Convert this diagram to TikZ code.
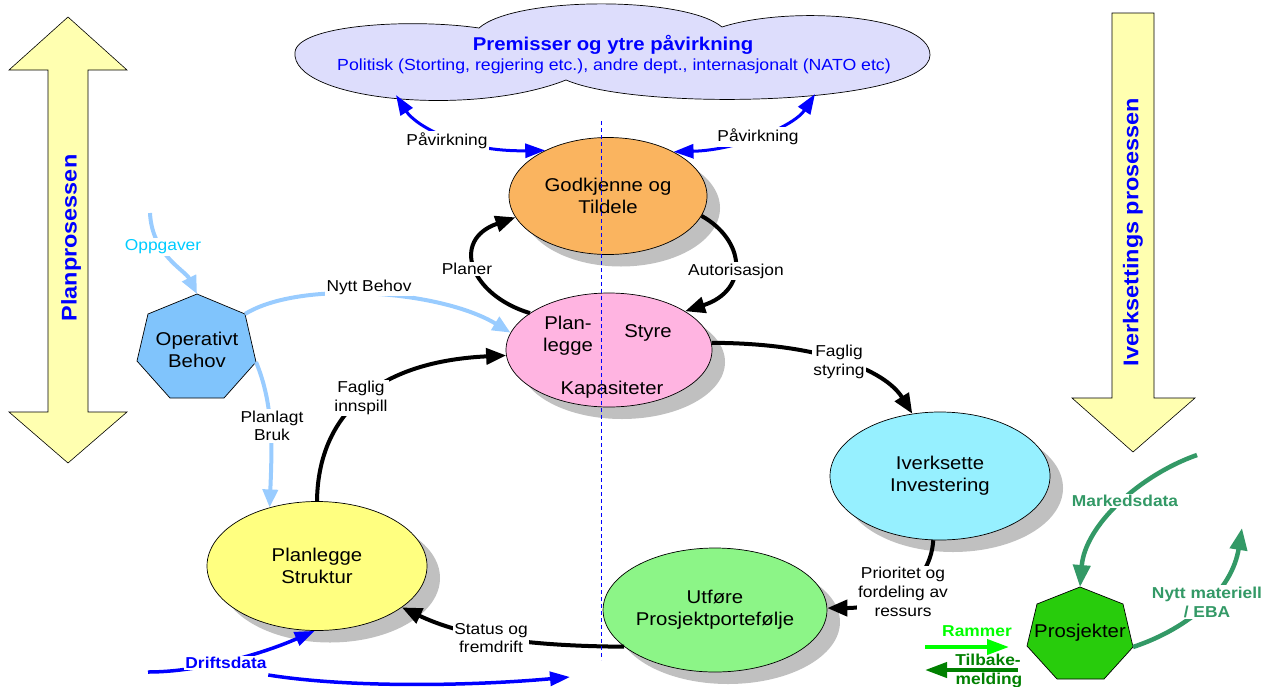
\documentclass[tikz,border=0pt]{standalone}
\usepackage{fontspec}
\setmainfont{Liberation Sans}[FakeStretch=1.1]
\usetikzlibrary{arrows.meta,shapes.geometric,shadows}

\definecolor{cloudfill}{RGB}{221,221,252}
\definecolor{bandyellow}{RGB}{255,255,176}
\definecolor{godorange}{RGB}{250,180,95}
\definecolor{styrepink}{RGB}{255,180,225}
\definecolor{ivcyan}{RGB}{150,240,255}
\definecolor{utgreen}{RGB}{140,245,135}
\definecolor{plyellow}{RGB}{255,255,128}
\definecolor{opblue}{RGB}{128,196,252}
\definecolor{projgreen}{RGB}{40,204,12}
\definecolor{shadowgray}{RGB}{192,192,192}
\definecolor{needblue}{RGB}{153,204,255}
\definecolor{taskcyan}{RGB}{0,204,255}
\definecolor{marketgreen}{RGB}{51,153,102}
\definecolor{frameGreen}{RGB}{0,255,0}
\definecolor{feedbackgreen}{RGB}{0,128,0}
\definecolor{divblue}{RGB}{0,0,255}

\begin{document}
\begin{tikzpicture}[x=1pt,y=-1pt,
  proc/.style={ellipse, draw=black, line width=0.7pt, inner sep=0pt, align=center,
    font=\fontsize{18.5}{22}\selectfont,
    drop shadow={shadow xshift=13pt, shadow yshift=-12pt, fill=shadowgray, opacity=1}},
  lbl/.style={fill=white, inner sep=1.5pt, align=center, font=\fontsize{15.8}{18.5}\selectfont},
  blbl/.style={lbl, font=\bfseries\fontsize{15.8}{19}\selectfont},
  ptext/.style={inner sep=0pt, align=center, font=\fontsize{18.5}{22}\selectfont},
  band/.style={draw=black, line width=0.6pt, fill=bandyellow, line join=miter},
  bandtext/.style={rotate=90, text=blue, font=\bfseries\fontsize{21.3}{24}\selectfont},
  flowblack/.style={draw=black, line width=4pt, -{Triangle[length=20pt,width=16pt]}},
  flowinfluence/.style={draw=blue, line width=3pt, {Triangle[length=20pt,width=14pt]}-{Triangle[length=20pt,width=14pt]}},
  flowneed/.style={draw=needblue, line width=4pt, -{Triangle[length=18pt,width=15pt]}},
  flowdata/.style={draw=blue, line width=3.5pt, -{Triangle[length=20pt,width=14pt]}},
  flowmarket/.style={draw=marketgreen, line width=4.5pt, -{Triangle[length=22pt,width=17pt]}},
]
\useasboundingbox (0,0) rectangle (1265,686);

% process bands at both sides
\draw[band] (68,17) -- (127,70) -- (88,70) -- (88,412) -- (127,412) -- (68,463)
  -- (9,412) -- (48,412) -- (48,70) -- (9,70) -- cycle;
\node[bandtext] (planband) at (71,238) {Planprosessen};
\draw[band] (1112,13) -- (1154,13) -- (1154,398) -- (1195,398) -- (1133,452)
  -- (1072,398) -- (1112,398) -- cycle;
\node[bandtext] (ivband) at (1133,232) {Iverksettings prosessen};

% cloud of external premises
\draw[fill=cloudfill, line width=0.7pt]
  (295,52) .. controls (298,25) and (410,18) .. (479,28)
  .. controls (515,-4) and (685,-4) .. (722,27)
  .. controls (790,5) and (930,15) .. (930,55)
  .. controls (930,105) and (640,112) .. (566,80)
  .. controls (470,118) and (290,100) .. (295,52) -- cycle;
\node[text=blue, font=\bfseries\fontsize{18.5}{22}\selectfont] (premtitle) at (613,45) {Premisser og ytre påvirkning};
\node[text=blue, font=\fontsize{16.1}{19}\selectfont] (premsub) at (614,66) {Politisk (Storting, regjering etc.), andre dept., internasjonalt (NATO etc)};
\coordinate (cloudL) at (396,95);
\coordinate (cloudR) at (815,94);

% process ellipses
\node[proc, fill=godorange, minimum width=198pt, minimum height=117pt] (god) at (608,196) {Godkjenne og\\Tildele};
\node[proc, fill=styrepink, minimum width=206pt, minimum height=114pt] (sty) at (609,350) {};
\node[ptext] (styplan) at (568,336) {Plan-\\legge};
\node[ptext] (stystyre) at (648,333) {Styre};
\node[ptext] (stykap) at (612,390) {Kapasiteter};
\node[proc, fill=ivcyan, minimum width=220pt, minimum height=128pt] (ive) at (940,476) {Iverksette\\Investering};
\node[proc, fill=utgreen, minimum width=210pt, minimum height=124pt] (utf) at (715,610) {Utføre\\Prosjektportefølje};
\node[proc, fill=plyellow, minimum width=220pt, minimum height=129pt] (pls) at (317,566) {Planlegge\\Struktur};

% heptagons
\draw[fill=opblue, line width=0.7pt] (197,294) coordinate (opTop) -- (245,314) coordinate (opNE)
  -- (256,362) coordinate (opE) -- (224,398) -- (170,398) -- (137,361) -- (148,314) -- cycle;
\node[ptext] (opb) at (197,350) {Operativt\\Behov};
\draw[fill=projgreen, line width=0.7pt] (1080,587) coordinate (prTop) -- (1123,604)
  -- (1133,647) coordinate (prE) -- (1104,679) -- (1057,679) -- (1027,646) -- (1037,604) -- cycle;
\node[ptext] (proj) at (1080,633) {Prosjekter};

% influence arrows
\draw[flowinfluence] (cloudL) .. controls (415,125) and (460,152) .. (god.144);
\draw[flowinfluence] (cloudR) .. controls (795,125) and (740,150) .. (god.34);
\node[lbl] (infL) at (447,141) {Påvirkning};
\node[lbl] (infR) at (758,137) {Påvirkning};

% main cycle
\draw[flowblack] (sty.155) .. controls (470,295) and (450,240) .. (god.193);
\node[lbl] (planer) at (467,269) {Planer};
\draw[flowblack] (god.348) .. controls (745,240) and (750,290) .. (sty.27);
\node[lbl] (autor) at (736,271) {Autorisasjon};
\draw[flowblack] (sty.4) .. controls (820,343) and (885,370) .. (ive.114);
\node[lbl] (fstyr) at (839,362) {Faglig\\styring};
\draw[flowblack] (ive.264) .. controls (930,590) and (880,608) .. (utf.1);
\node[lbl, font=\fontsize{15.8}{19}\selectfont] (prio) at (903,592) {Prioritet og\\fordeling av\\ressurs};
\draw[flowblack] (utf.202) .. controls (520,646) and (460,635) .. (pls.334);
\node[lbl] (status) at (491,638) {Status og\\fremdrift};
\draw[flowblack] (pls.90) .. controls (318,420) and (370,362) .. (sty.183);
\node[lbl] (finn) at (361,398) {Faglig\\innspill};

% operational need
\coordinate (taskIn) at (150,213);
\draw[flowneed] (taskIn) .. controls (152,255) and (185,270) .. (opTop);
\node[lbl, text=taskcyan] (oppg) at (163,247) {Oppgaver};
\draw[flowneed] (opNE) .. controls (300,280) and (440,290) .. (sty.170);
\node[lbl] (nytt) at (369,287) {Nytt Behov};
\draw[flowneed] (opE) .. controls (274,405) and (272,450) .. (pls.129);
\node[lbl] (bruk) at (272,426) {Planlagt\\Bruk};

% operational data
\coordinate (dataIn) at (148,672);
\draw[flowdata] (dataIn) .. controls (200,672) and (262,654) .. (pls.268);
\node[blbl, text=blue] (drift) at (226,663) {Driftsdata};
\coordinate (dataOut) at (570,677);
\draw[flowdata] (drift.east |- 0,675) .. controls (350,688) and (470,686) .. (dataOut);

% project side
\coordinate (marketIn) at (1197,455);
\draw[flowmarket] (marketIn) .. controls (1140,475) and (1085,525) .. (prTop);
\node[blbl, text=marketgreen] (market) at (1125,501) {Markedsdata};
\coordinate (matOut) at (1242,528);
\draw[flowmarket] (prE) .. controls (1190,628) and (1232,590) .. (matOut);
\node[blbl, text=marketgreen] (mat) at (1207,602) {Nytt materiell\\/ EBA};

\coordinate (frameA) at (925,647);
\coordinate (frameB) at (1009,647);
\draw[draw=frameGreen, line width=4pt, -{Triangle[length=22pt,width=15pt]}] (frameA) -- (frameB);
\node[font=\bfseries\fontsize{15.8}{19}\selectfont, text=frameGreen, inner sep=0pt] (rammer) at (977,631) {Rammer};
\coordinate (backA) at (1018,670);
\coordinate (backB) at (925,670);
\draw[draw=feedbackgreen, line width=4pt, -{Triangle[length=22pt,width=15pt]}] (backA) -- (backB);
\node[font=\bfseries\fontsize{15.8}{19}\selectfont, text=feedbackgreen, inner sep=0pt] (tilb) at (988,660) {Tilbake-};
\node[font=\bfseries\fontsize{15.8}{19}\selectfont, text=feedbackgreen, inner sep=0pt] (meld) at (989,680) {melding};

% dividing line between planning and execution
\coordinate (divTop) at (601,121);
\coordinate (divBot) at (601,660);
\draw[draw=divblue, line width=0.9pt, dash pattern=on 4pt off 3pt] (divTop) -- (divBot);
\end{tikzpicture}
\end{document}
